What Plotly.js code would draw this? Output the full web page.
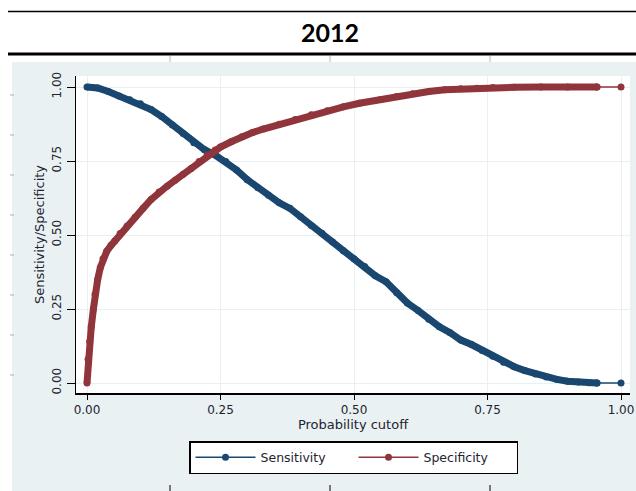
<!DOCTYPE html>
<html>
<head>
<meta charset="utf-8">
<script src="https://cdn.plot.ly/plotly-3.0.1.min.js"></script>
<style>html,body{margin:0;padding:0;background:#fff;}#chart{width:636px;height:491px;}</style>
</head>
<body>
<div id="chart"></div>
<script>
// ---- data ----
var chartTitle = "2012";
var sensCutoff = [0,0.02,0.04,0.06,0.08,0.10,0.12,0.14,0.16,0.18,0.20,0.22,0.24,0.26,0.28,0.30,0.32,0.34,0.36,0.38,0.40,0.42,0.44,0.46,0.48,0.50,0.52,0.54,0.56,0.58,0.60,0.62,0.64,0.66,0.68,0.70,0.72,0.74,0.76,0.78,0.80,0.82,0.84,0.86,0.88,0.90,0.92,0.94,0.955,1.0];
var sensitivity = [1.0,0.997,0.985,0.97,0.957,0.943,0.924,0.9,0.872,0.843,0.812,0.788,0.77,0.748,0.72,0.687,0.66,0.634,0.609,0.59,0.562,0.532,0.506,0.476,0.447,0.42,0.394,0.362,0.342,0.305,0.27,0.245,0.215,0.19,0.17,0.145,0.13,0.11,0.09,0.07,0.055,0.042,0.03,0.02,0.012,0.006,0.003,0.001,0.0,0.0];
var specCutoff = [0,0.002,0.005,0.008,0.012,0.015,0.02,0.025,0.03,0.037,0.045,0.052,0.062,0.075,0.09,0.105,0.12,0.135,0.15,0.165,0.18,0.195,0.21,0.225,0.24,0.25,0.27,0.29,0.31,0.33,0.36,0.39,0.42,0.45,0.48,0.51,0.55,0.58,0.61,0.64,0.67,0.70,0.73,0.76,0.80,0.85,0.90,0.955,1.0];
var specificity = [0,0.08,0.14,0.19,0.25,0.30,0.35,0.39,0.42,0.445,0.465,0.48,0.505,0.53,0.56,0.59,0.62,0.645,0.665,0.685,0.705,0.725,0.748,0.77,0.787,0.797,0.815,0.832,0.846,0.858,0.874,0.89,0.906,0.92,0.933,0.945,0.958,0.968,0.977,0.985,0.991,0.994,0.996,0.998,0.999,1.0,1.0,1.0,1.0];
var seriesNames = ["Sensitivity", "Specificity"];
var tickVals = [0, 0.25, 0.5, 0.75, 1];
var tickText = ["0.00", "0.25", "0.50", "0.75", "1.00"];
var xTitle = "Probability cutoff";
var yTitle = "Sensitivity/Specificity";

// ---- styling ----
var NAVY = "#1a476f", MAROON = "#90353b";
var W = 636, H = 491;
var M = {l: 76, r: 6, t: 76, b: 98};
var PW = W - M.l - M.r, PH = H - M.t - M.b;
function px(x){ return (x - M.l) / PW; }
function py(y){ return (H - M.b - y) / PH; }

function thick(xs, ys, color){
  var n = xs.length - 1;
  return {x: xs.slice(0, n), y: ys.slice(0, n), type: "scatter", mode: "lines+markers",
    line: {color: color, width: 7}, marker: {color: color, size: 7}, showlegend: false, hoverinfo: "skip"};
}
function tail(xs, ys, color, name){
  var n = xs.length;
  return {x: xs.slice(n - 2), y: ys.slice(n - 2), type: "scatter", mode: "lines+markers", name: name,
    line: {color: color, width: 1.5}, marker: {color: color, size: 7}, showlegend: true};
}

var data = [
  thick(sensCutoff, sensitivity, NAVY),
  thick(specCutoff, specificity, MAROON),
  tail(sensCutoff, sensitivity, NAVY, seriesNames[0]),
  tail(specCutoff, specificity, MAROON, seriesNames[1])
];

var shapes = [
  {type: "rect", xref: "paper", yref: "paper", x0: px(12), x1: px(636), y0: py(491), y1: py(62),
   fillcolor: "#e9f1f3", line: {width: 0}, layer: "below"},
  {type: "rect", xref: "paper", yref: "paper", x0: 0, x1: 1, y0: 0, y1: 1,
   fillcolor: "#ffffff", line: {width: 0}, layer: "below"},
  {type: "line", xref: "paper", yref: "paper", x0: px(8), x1: px(636), y0: py(11.5), y1: py(11.5),
   line: {color: "#000", width: 1.5}},
  {type: "line", xref: "paper", yref: "paper", x0: px(8), x1: px(636), y0: py(54), y1: py(54),
   line: {color: "#000", width: 3}}
];
[170, 330, 490].forEach(function(x){
  shapes.push({type: "line", xref: "paper", yref: "paper", x0: px(x), x1: px(x), y0: py(56), y1: py(62),
    line: {color: "#b8b8b8", width: 1}});
  shapes.push({type: "line", xref: "paper", yref: "paper", x0: px(x), x1: px(x), y0: py(485), y1: py(491),
    line: {color: "#000", width: 1}});
});
for (var yy = 95; yy <= 375; yy += 40) {
  shapes.push({type: "line", xref: "paper", yref: "paper", x0: px(10), x1: px(14), y0: py(yy), y1: py(yy),
    line: {color: "#b0b0b0", width: 1}});
}

var FONT = "DejaVu Sans, Verdana, sans-serif";
var TXT = "#1e2430";
var layout = {
  width: W, height: H,
  margin: M,
  paper_bgcolor: "#ffffff",
  plot_bgcolor: "rgba(0,0,0,0)",
  title: {text: "<b>" + chartTitle + "</b>", x: 330 / W, xanchor: "center", y: 1 - 33 / H, yanchor: "middle",
    font: {family: "Lato, Open Sans, sans-serif", size: 25, color: "#000"}},
  font: {family: FONT, size: 12, color: TXT},
  xaxis: {range: [-(87 - 76) / 534, (630 - 87) / 534], tickvals: tickVals, ticktext: tickText,
    showgrid: true, gridcolor: "#e8f0f2", gridwidth: 1, zeroline: false,
    showline: true, linecolor: "#000", linewidth: 1.5, ticks: "outside", ticklen: 5, tickcolor: "#000",
    tickfont: {size: 12, family: FONT, color: TXT},
    title: {text: xTitle, font: {size: 13, family: FONT, color: TXT}, standoff: 0}},
  yaxis: {range: [-(393 - 383) / 296, (383 - 76) / 296], tickvals: tickVals, ticktext: tickText,
    tickangle: -90, showgrid: true, gridcolor: "#e8f0f2", gridwidth: 1, zeroline: false,
    showline: true, linecolor: "#000", linewidth: 1.5, ticks: "outside", ticklen: 8, tickcolor: "#000",
    ticklabelstandoff: 1,
    tickfont: {size: 12, family: FONT, color: TXT},
    title: {text: yTitle, font: {size: 13, family: FONT, color: TXT}, standoff: 2}},
  shapes: shapes,
  legend: {orientation: "h", x: px(353.5), xanchor: "center", y: py(441), yanchor: "top",
    bgcolor: "#ffffff", bordercolor: "#000", borderwidth: 1.5, itemwidth: 60, entrywidth: 88,
    font: {size: 12.5, family: FONT, color: TXT}, tracegroupgap: 0},
  showlegend: true
};

Plotly.newPlot("chart", data, layout, {displayModeBar: false, staticPlot: true});
</script>
</body>
</html>
